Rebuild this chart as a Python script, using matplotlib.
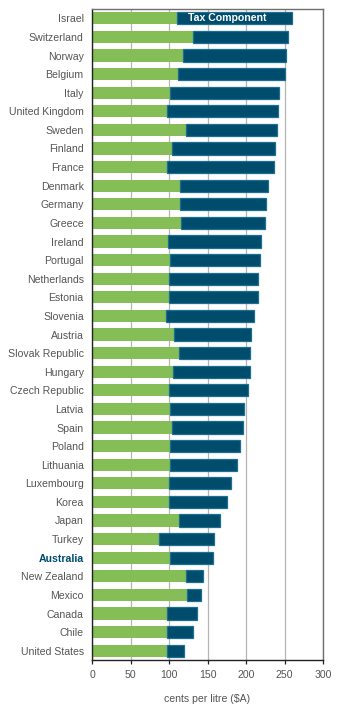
import numpy as np
import matplotlib.pyplot as plt

# Petrol prices by country, cents per litre ($A)
countries = ["Israel", "Switzerland", "Norway", "Belgium", "Italy", "United Kingdom",
             "Sweden", "Finland", "France", "Denmark", "Germany", "Greece", "Ireland",
             "Portugal", "Netherlands", "Estonia", "Slovenia", "Austria", "Slovak Republic",
             "Hungary", "Czech Republic", "Latvia", "Spain", "Poland", "Lithuania",
             "Luxembourg", "Korea", "Japan", "Turkey", "Australia", "New Zealand",
             "Mexico", "Canada", "Chile", "United States"]
base_price = [110, 131, 118, 111.5, 101, 97.5, 121.5, 104.5, 98, 114, 114, 115.5, 98.5,
              101, 100, 100, 96, 107, 113, 105, 100, 101, 104, 101, 101,
              100, 100, 113, 86.5, 101, 121.5, 123, 97, 97, 97]
total_price = [260, 254.5, 252, 250.5, 243, 241.5, 240.5, 238, 236.5, 228.5, 226, 225, 219.5,
               218.5, 215.5, 215.5, 210.5, 206.5, 205.5, 205.5, 203, 197.5, 196.5, 192.5, 188.5,
               180.5, 175.5, 166.5, 158.5, 157.5, 144.5, 142, 136.5, 131.5, 120]
x_ticks = [0, 50, 100, 150, 200, 250, 300]

GREEN = "#85bd57"
NAVY = "#004c6c"
EDGE = "#1c6f90"
TEXT = "#555555"

plt.rcParams['font.family'] = ['Liberation Sans', 'DejaVu Sans']

base = np.array(base_price)
tax = np.array(total_price) - base
y = np.arange(len(countries))

fig = plt.figure(figsize=(3.41, 7.11), dpi=100)
ax = fig.add_axes([92 / 341, 51 / 711, 231 / 341, 651 / 711])

ax.barh(y, base, height=0.66, color=GREEN, zorder=2)
ax.barh(y, tax, left=base, height=0.66, color=NAVY, edgecolor=EDGE, linewidth=0.9, zorder=2)

# label inside the first tax bar
ax.text(base[0] + tax[0] / 2 - 10, y[0], "Tax Component", color="white", fontsize=7.6,
        fontweight="bold", ha="center", va="center", zorder=3)

ax.set_xlim(0, 300)
ax.set_ylim(len(countries) - 0.5, -0.5)
ax.set_xticks(x_ticks)
ax.set_xticklabels([str(t) for t in x_ticks], color=TEXT, fontsize=7.6)
ax.set_yticks(y)
ax.set_yticklabels(countries, fontsize=7.6, color=TEXT)
for lbl in ax.get_yticklabels():
    if lbl.get_text() == "Australia":
        lbl.set_color(NAVY)
        lbl.set_fontweight("bold")

ax.tick_params(axis="y", length=0, pad=6)
ax.tick_params(axis="x", length=3, width=0.9, color="#222222", pad=4)
ax.xaxis.grid(True, color="#b5b5b5", linewidth=0.9, zorder=0)
ax.set_axisbelow(True)

for side in ["left", "bottom"]:
    ax.spines[side].set_color("#222222")
    ax.spines[side].set_linewidth(1.0)
for side in ["top", "right"]:
    ax.spines[side].set_color("#6e6e6e")
    ax.spines[side].set_linewidth(1.0)

ax.set_xlabel("cents per litre ($A)", color=TEXT, fontsize=7.6, labelpad=10)

fig.savefig("out.png", dpi=100)
